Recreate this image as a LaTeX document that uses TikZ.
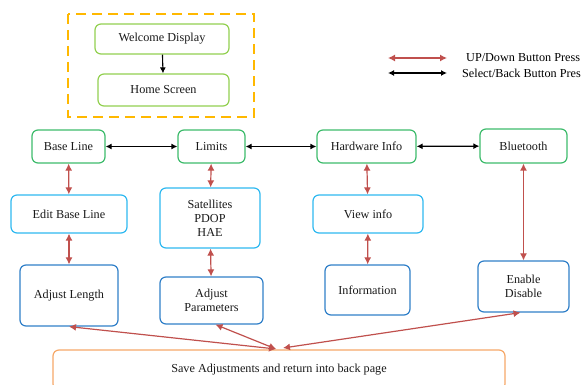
\documentclass[tikz,border=0pt]{standalone}
\usepackage{fontspec}
\setmainfont{Liberation Serif}
\usetikzlibrary{arrows.meta}
\definecolor{startgreen}{HTML}{92D050}
\definecolor{menugreen}{HTML}{3DBB6B}
\definecolor{subcyan}{HTML}{2EB8F0}
\definecolor{setblue}{HTML}{2F7FC8}
\definecolor{saveorange}{HTML}{F6A868}
\definecolor{frameorange}{HTML}{FFB800}
\definecolor{updownred}{HTML}{C0504D}
\begin{document}
\begin{tikzpicture}[x=1pt,y=-1pt,
    font=\fontsize{12.2}{14}\selectfont,
    box/.style={draw,rounded corners=6pt,line width=1.2pt,align=center,inner sep=0pt,text=black!90},
    startbox/.style={box,draw=startgreen},
    menubox/.style={box,draw=menugreen},
    subbox/.style={box,draw=subcyan},
    setbox/.style={box,draw=setblue},
    updown/.style={{Latex[length=7pt,width=7pt]}-{Latex[length=7pt,width=7pt]},updownred,line width=1.2pt},
    selback/.style={{Latex[length=6pt,width=6pt]}-{Latex[length=6pt,width=6pt]},black,line width=1.2pt}]
    \useasboundingbox (0,0) rectangle (582,385);
    \clip (0,0) rectangle (582,385);
    % start screens
    \draw[frameorange,line width=2.6pt,dash pattern=on 10pt off 6pt] (68,14) rectangle (254,117);
    \node[startbox,minimum width=134pt,minimum height=30pt] (welcome) at (162,39) {Welcome Display};
    \node[startbox,minimum width=131pt,minimum height=32pt] (home) at (163.5,90) {Home Screen};
    \draw[-{Latex[length=6pt,width=6pt]},line width=1.1pt] (welcome) -- (home);
    % legend
    \coordinate (redl) at (388,58);
    \coordinate (redr) at (447,58);
    \coordinate (blkl) at (388,73);
    \coordinate (blkr) at (447,73);
    \draw[updown] (redl) -- (redr);
    \draw[selback] (blkl) -- (blkr);
    \node[anchor=west,inner sep=0pt] (updowntxt) at (466,58) {UP/Down Button Press};
    \node[anchor=west,inner sep=0pt] (selbacktxt) at (462,73) {Select/Back Button Pres};
    % menu row
    \node[menubox,minimum width=73pt,minimum height=33pt] (base) at (68.5,146.5) {Base Line};
    \node[menubox,minimum width=67pt,minimum height=33pt] (limits) at (211.5,146.5) {Limits};
    \node[menubox,minimum width=99pt,minimum height=33pt] (hw) at (366.5,146.5) {Hardware Info};
    \node[menubox,minimum width=87pt,minimum height=34pt] (bt) at (523.5,146) {Bluetooth};
    \draw[selback] (base) -- (limits);
    \draw[selback] (limits) -- (hw);
    \draw[selback] (hw) -- (bt);
    % sub menus
    \node[subbox,minimum width=116pt,minimum height=38pt] (edit) at (69,214) {Edit Base Line};
    \node[subbox,minimum width=100pt,minimum height=60pt] (sat) at (210,218) {Satellites\\PDOP\\HAE};
    \node[subbox,minimum width=110pt,minimum height=38pt] (view) at (368,214) {View info};
    % settings
    \node[setbox,minimum width=98pt,minimum height=61pt] (adjlen) at (69,295.5) {Adjust Length};
    \node[setbox,minimum width=103pt,minimum height=47pt] (adjpar) at (211.5,300.5) {Adjust\\Parameters};
    \node[setbox,minimum width=85pt,minimum height=50pt] (info) at (367.5,290) {Information};
    \node[setbox,minimum width=91pt,minimum height=51pt] (enable) at (523.5,286.5) {Enable\\Disable};
    \node[box,draw=saveorange,minimum width=452pt,minimum height=40pt] (save) at (279,370) {Save Adjustments and return into back page};
    \draw[updown] (base) -- (edit);
    \draw[updown] (edit) -- (adjlen);
    \draw[updown] (limits) -- (sat);
    \draw[updown] (sat) -- (adjpar);
    \draw[updown] (hw) -- (view);
    \draw[updown] (view) -- (info);
    \draw[updown] (bt) -- (enable);
    % back to save
    \coordinate (savel) at (276,349);
    \coordinate (saver) at (283,348);
    \draw[updown] (adjlen.south) -- (savel);
    \draw[updown] ([xshift=4pt]adjpar.south) -- (savel);
    \draw[updown] ([xshift=-3pt]enable.south) -- (saver);
\end{tikzpicture}
\end{document}
